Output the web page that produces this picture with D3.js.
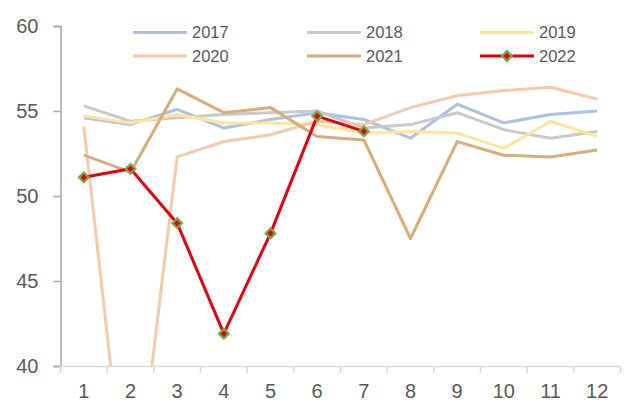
<!DOCTYPE html>
<html>
<head>
<meta charset="utf-8">
<script src="https://cdn.jsdelivr.net/npm/d3@7"></script>
<style>
  body { margin: 0; background: #fff; }
  text { font-family: "Liberation Sans", Arial, sans-serif; fill: #595959; }
</style>
</head>
<body>
<svg id="chart"></svg>
<script>
/* Data */
var months = [1, 2, 3, 4, 5, 6, 7, 8, 9, 10, 11, 12];
var yTicks = [40, 45, 50, 55, 60];
var years = ["2017", "2018", "2019", "2020", "2021", "2022"];
var colors = ["#abc2e6", "#c9c9c9", "#ffe597", "#f8c9a8", "#d9ad76", "#e50012"];

var v2017 = [54.6, 54.2, 55.1, 54.0, 54.5, 54.9, 54.5, 53.4, 55.4, 54.3, 54.8, 55.0];
var v2018 = [55.3, 54.4, 54.6, 54.8, 54.9, 55.0, 54.0, 54.2, 54.9, 53.9, 53.4, 53.8];
var v2019 = [54.7, 54.3, 54.8, 54.3, 54.3, 54.2, 53.7, 53.8, 53.7, 52.8, 54.4, 53.5];
var v2020 = [54.1, 29.6, 52.3, 53.2, 53.6, 54.4, 54.2, 55.2, 55.9, 56.2, 56.4, 55.7];
var v2021 = [52.4, 51.4, 56.3, 54.9, 55.2, 53.5, 53.3, 47.5, 53.2, 52.4, 52.3, 52.7];
var v2022 = [51.1, 51.6, 48.4, 41.9, 47.8, 54.7, 53.8];

var seriesValues = [v2017, v2018, v2019, v2020, v2021, v2022];

/* Layout */
var W = 626, H = 412;
var plot = { left: 60.5, right: 620.5, top: 26, bottom: 366 };

var svg = d3.select("#chart")
    .attr("width", W)
    .attr("height", H);

var x = d3.scaleBand()
    .domain(months)
    .range([plot.left, plot.right]);

var y = d3.scaleLinear()
    .domain([40, 60])
    .range([plot.bottom, plot.top]);

// clip lines to the plot area (2020 drops far below 40)
svg.append("clipPath").attr("id", "plotClip")
  .append("rect")
    .attr("x", plot.left)
    .attr("y", plot.top - 2)
    .attr("width", plot.right - plot.left)
    .attr("height", plot.bottom - plot.top + 2);

// y axis
var yAxis = svg.append("g")
    .attr("transform", "translate(" + plot.left + ",0)")
    .call(d3.axisLeft(y).tickValues(yTicks).tickSize(7).tickPadding(15));
yAxis.select(".domain").attr("stroke", "#a6a6a6").attr("stroke-width", 1.5);
yAxis.selectAll(".tick line").attr("stroke", "#a6a6a6").attr("stroke-width", 1.5);
yAxis.selectAll("text").style("font-size", "20px").attr("fill", "#595959");

// x axis: ticks sit on the category boundaries
var xAxis = svg.append("g")
    .attr("transform", "translate(0," + plot.bottom + ")")
    .call(d3.axisBottom(x).tickSize(0).tickPadding(17));
xAxis.select(".domain").attr("stroke", "#d9d9d9").attr("stroke-width", 1.5);
xAxis.selectAll("text").style("font-size", "20px").attr("fill", "#595959")
    .attr("dy", "0.75em");
xAxis.selectAll(".bound")
    .data(d3.range(months.length + 1))
  .enter().append("line")
    .attr("x1", function(i){ return plot.left + i * x.step(); })
    .attr("x2", function(i){ return plot.left + i * x.step(); })
    .attr("y1", 0)
    .attr("y2", 7)
    .attr("stroke", "#d9d9d9")
    .attr("stroke-width", 1.5);

var line = d3.line()
    .x(function(d, i){ return x(months[i]) + x.bandwidth() / 2; })
    .y(function(d){ return y(d); });

var lines = svg.append("g").attr("clip-path", "url(#plotClip)");
seriesValues.forEach(function(vals, k){
    lines.append("path")
        .datum(vals)
        .attr("fill", "none")
        .attr("stroke", colors[k])
        .attr("stroke-width", 3)
        .attr("stroke-linejoin", "round")
        .attr("d", line);
});

// diamond markers for 2022
var diamond = d3.symbol().type(d3.symbolDiamond2).size(60);
svg.append("g").selectAll("path")
    .data(v2022)
  .enter().append("path")
    .attr("d", diamond)
    .attr("transform", function(d, i){
        return "translate(" + (x(months[i]) + x.bandwidth() / 2) + "," + y(d) + ")";
    })
    .attr("fill", "#e50012")
    .attr("stroke", "#70ad47")
    .attr("stroke-width", 2.2);

// legend
var legendCols = [133, 307, 480];
var legendRows = [32.5, 56];
var legend = svg.append("g");
years.forEach(function(yr, k){
    var lx = legendCols[k % 3], ly = legendRows[Math.floor(k / 3)];
    legend.append("line")
        .attr("x1", lx).attr("x2", lx + 54)
        .attr("y1", ly).attr("y2", ly)
        .attr("stroke", colors[k])
        .attr("stroke-width", 3);
    if (yr === "2022") {
        legend.append("path")
            .attr("d", diamond)
            .attr("transform", "translate(" + (lx + 27) + "," + ly + ")")
            .attr("fill", "#e50012")
            .attr("stroke", "#70ad47")
            .attr("stroke-width", 2.2);
    }
    legend.append("text")
        .attr("x", lx + 59)
        .attr("y", ly)
        .attr("dy", "0.36em")
        .style("font-size", "16.5px")
        .text(yr);
});
</script>
</body>
</html>
